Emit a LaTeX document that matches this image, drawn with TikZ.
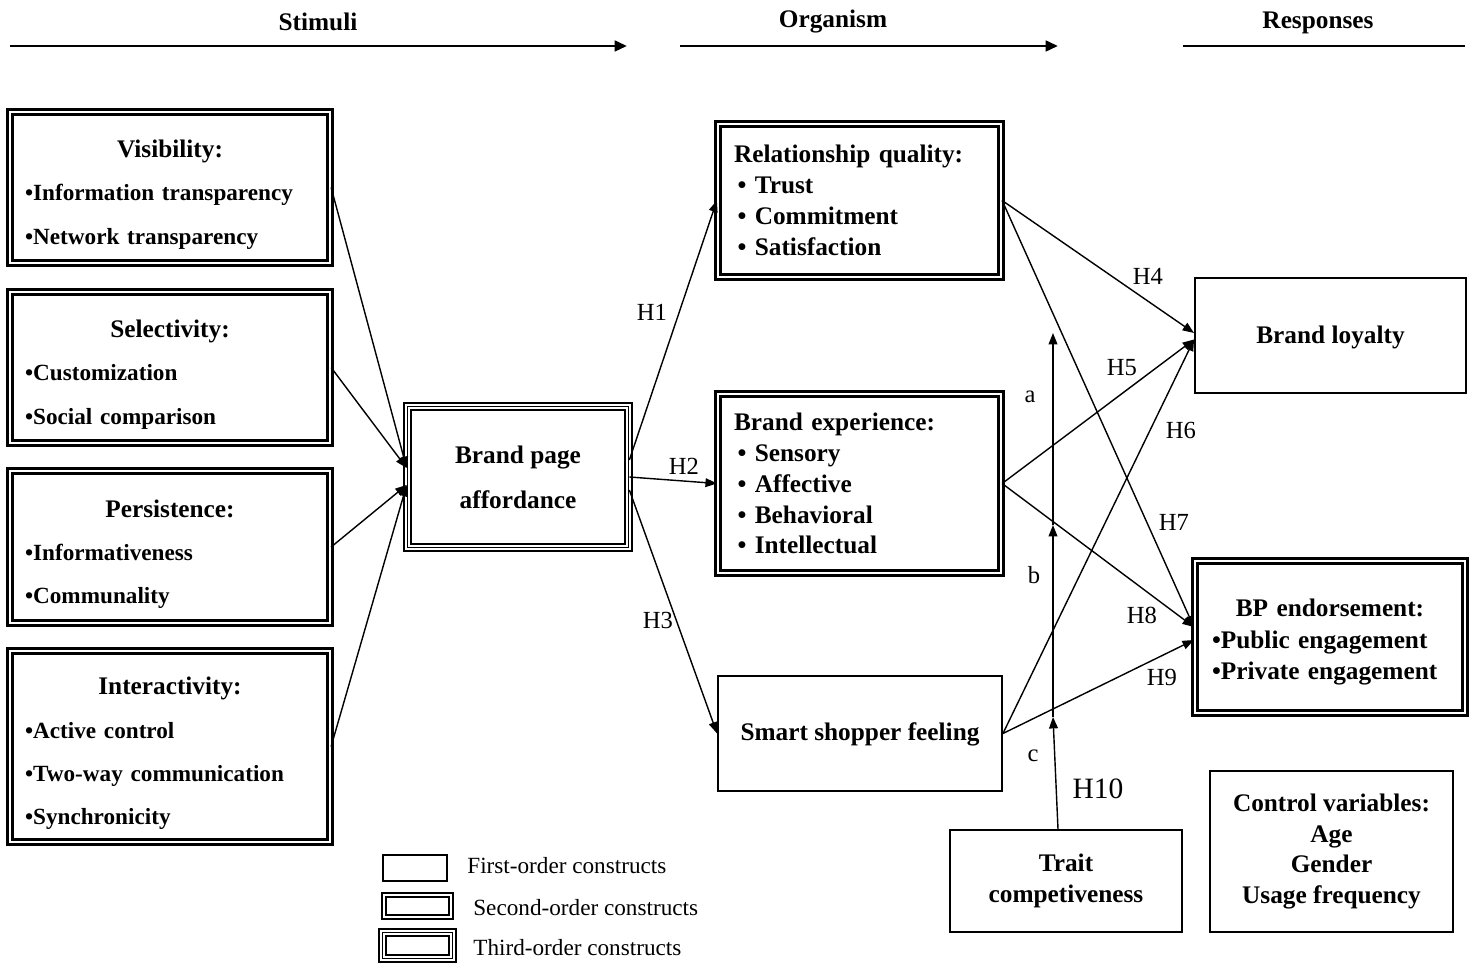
\documentclass[tikz,border=0pt]{standalone}
\usepackage{fontspec}
\setmainfont{Liberation Serif}
\usetikzlibrary{positioning, arrows.meta, calc}
\newcommand{\sorHead}{\bfseries\fontsize{14.4}{17.6}\selectfont}
\newcommand{\sorBox}{\bfseries\fontsize{14.4}{17.6}\selectfont}
\newcommand{\sorList}{\bfseries\fontsize{13.2}{24.6}\selectfont}
\newcommand{\sorTitle}{\fontsize{14.4}{24.6}\selectfont}
\newcommand{\sorLab}{\fontsize{14}{16}\selectfont}
\tikzset{
  firstbox/.style={draw, line width=1.1pt, inner sep=0pt, align=center, font=\sorBox},
  secondbox/.style={draw, line width=1.3pt, double, double distance=1.6pt, inner sep=0pt},
  thirdbox/.style={inner sep=0pt, preaction={draw, line width=4.6pt},
    preaction={draw, white, line width=2.6pt}, draw, line width=1pt},
  arr/.style={-{Triangle[length=6.5pt,width=5pt]}, line width=0.8pt},
  headarr/.style={-{Triangle[length=7pt,width=6pt]}, line width=1.6pt},
  hlab/.style={font=\sorLab, inner sep=1pt},
  legtxt/.style={font=\fontsize{13.2}{16}\selectfont, anchor=west, inner sep=0pt}
}
\begin{document}
\begin{tikzpicture}[x=0.02cm, y=-0.02cm]
  \useasboundingbox (0,0) rectangle (1478,972);

  \node[font=\sorHead] (stim) at (318,22) {Stimuli};
  \node[font=\sorHead] (org) at (833,22) {Organism};
  \node[font=\sorHead] (resp) at (1318,23) {Responses};
  \coordinate (stimA) at (10,46);
  \coordinate (stimB) at (627,46);
  \coordinate (orgA) at (680,46);
  \coordinate (orgB) at (1058,46);
  \coordinate (respA) at (1183,46);
  \coordinate (respB) at (1465,46);
  \draw[headarr] (stimA) -- (stimB);
  \draw[headarr] (orgA) -- (orgB);
  \draw[line width=1.6pt] (respA) -- (respB);

  \node[secondbox, minimum width=6.4cm, minimum height=3.02cm, text width=5.8cm, align=left, font=\sorList] (vis) at (170,187.5)
    {\rule{0pt}{18pt}\hfill{\sorTitle Visibility:}\hfill\null\\ •Information transparency\\ •Network transparency};
  \node[secondbox, minimum width=6.4cm, minimum height=3.02cm, text width=5.8cm, align=left, font=\sorList] (sel) at (170,367.5)
    {\rule{0pt}{18pt}\hfill{\sorTitle Selectivity:}\hfill\null\\ •Customization\\ •Social comparison};
  \node[secondbox, minimum width=6.4cm, minimum height=3.04cm, text width=5.8cm, align=left, font=\sorList] (per) at (170,547)
    {\rule{0pt}{18pt}\hfill{\sorTitle Persistence:}\hfill\null\\ •Informativeness\\ •Communality};
  \node[secondbox, minimum width=6.4cm, minimum height=3.82cm, text width=5.8cm, align=left, font=\sorList] (int) at (170,746.5)
    {\rule{0pt}{18pt}\hfill{\sorTitle Interactivity:}\hfill\null\\ •Active control\\ •Two-way communication\\ •Synchronicity};

  \node[thirdbox, minimum width=4.42cm, minimum height=2.82cm, align=center, font=\bfseries\fontsize{14.4}{25.5}\selectfont] (bpa) at (518,477)
    {Brand page\\ affordance};

  \node[secondbox, minimum width=5.66cm, minimum height=3.06cm, text width=5.02cm, align=left, font=\sorBox] (rq) at (859.5,200.5)
    {Relationship quality:\\ \hspace*{2pt}• Trust\\ \hspace*{2pt}• Commitment\\ \hspace*{2pt}• Satisfaction};
  \node[secondbox, minimum width=5.66cm, minimum height=3.58cm, text width=5.02cm, align=left, font=\sorBox] (be) at (859.5,483.5)
    {Brand experience:\\ \hspace*{2pt}• Sensory\\ \hspace*{2pt}• Affective\\ \hspace*{2pt}• Behavioral\\ \hspace*{2pt}• Intellectual};
  \node[firstbox, minimum width=5.68cm, minimum height=2.3cm, text depth=2pt] (ssf) at (860,733.5) {Smart shopper feeling};

  \node[firstbox, minimum width=5.42cm, minimum height=2.3cm, text depth=1pt] (bl) at (1330.5,335.5) {Brand loyalty};
  \node[secondbox, minimum width=5.4cm, minimum height=3.04cm, text width=4.72cm, align=left, font=\bfseries\fontsize{14.4}{17.9}\selectfont] (bpe) at (1330,637)
    {\rule{0pt}{16pt}\hfill BP endorsement:\hfill\null\\ •Public engagement\\ •Private engagement};
  \node[firstbox, minimum width=4.64cm, minimum height=2.04cm] (tc) at (1066,881) {Trait\\ competiveness};
  \node[firstbox, minimum width=4.86cm, minimum height=3.22cm] (cv) at (1331.5,851.5) {Control variables:\\ Age\\ Gender\\ Usage frequency};

  \draw[arr] (vis.east) -- ([yshift=0.18cm]bpa.west);
  \draw[arr] (sel.east) -- ([yshift=0.18cm]bpa.west);
  \draw[arr] (per.east) -- ([yshift=-0.16cm]bpa.west);
  \draw[arr] (int.east) -- ([yshift=-0.16cm]bpa.west);

  \draw[arr] ([yshift=0.34cm]bpa.east) -- (rq.west);
  \draw[arr] (bpa.east) -- (be.west);
  \draw[arr] ([yshift=-0.26cm]bpa.east) -- (ssf.west);
  \node[hlab] (h1) at (652,312) {H1};
  \node[hlab] (h2) at (684,466) {H2};
  \node[hlab] (h3) at (658,620) {H3};

  \draw[arr] (rq.east) -- ([yshift=0.05cm]bl.west);
  \draw[arr] (be.east) -- ([yshift=-0.08cm]bl.west);
  \draw[arr] (ssf.east) -- ([yshift=-0.08cm]bl.west);
  \draw[arr] (rq.east) -- ([yshift=0.2cm]bpe.west);
  \draw[arr] (be.east) -- ([yshift=0.2cm]bpe.west);
  \draw[arr] (ssf.east) -- ([yshift=-0.06cm]bpe.west);
  \node[hlab] (h4) at (1148,276) {H4};
  \node[hlab] (h5) at (1122,368) {H5};
  \node[hlab] (h6) at (1181,430) {H6};
  \node[hlab] (h7) at (1174,522) {H7};
  \node[hlab] (h8) at (1142,615) {H8};
  \node[hlab] (h9) at (1162,677) {H9};

  \coordinate (modc) at (1053,717);
  \coordinate (modb) at (1053,525);
  \coordinate (moda) at (1053,333);
  \draw[arr] ([xshift=-0.16cm]tc.north) -- (modc);
  \draw[arr] (modc) -- (modb);
  \draw[arr] (modb) -- (moda);
  \node[hlab] (la) at (1030,397) {a};
  \node[hlab] (lb) at (1034,575) {b};
  \node[hlab] (lc) at (1033,756) {c};
  \node[hlab, font=\fontsize{16.8}{18}\selectfont] (h10) at (1098,789) {H10};

  \node[firstbox, line width=0.8pt, minimum width=1.28cm, minimum height=0.52cm] (lg1) at (415,868) {};
  \node[secondbox, line width=0.9pt, double distance=1.1pt, minimum width=1.34cm, minimum height=0.44cm] (lg2) at (417.5,906) {};
  \node[thirdbox, minimum width=1.4cm, minimum height=0.52cm] (lg3) at (417.5,945.5) {};
  \node[legtxt] (lt1) at (467,866) {First-order constructs};
  \node[legtxt] (lt2) at (473,908) {Second-order constructs};
  \node[legtxt] (lt3) at (473,948) {Third-order constructs};
\end{tikzpicture}
\end{document}
